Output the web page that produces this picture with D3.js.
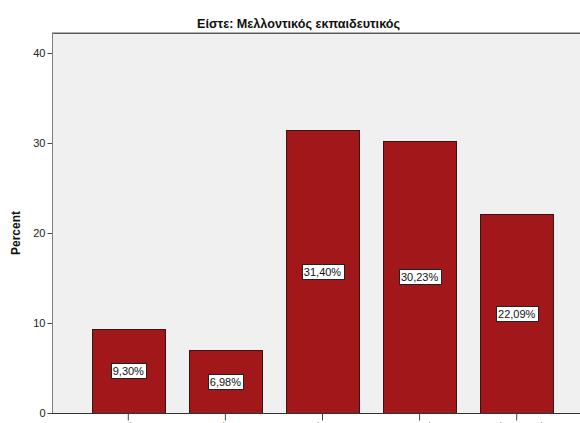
<!DOCTYPE html>
<html><head><meta charset="utf-8">
<script src="https://cdn.jsdelivr.net/npm/d3@7"></script>
<style>html,body{margin:0;padding:0;background:#fff;overflow:hidden}svg{display:block}</style>
</head><body>
<script>
const title = "Είστε: Μελλοντικός εκπαιδευτικός";
const yLabel = "Percent";
const categories = ["Καθόλου", "Λίγο", "Μέτρια", "Πολύ", "Πάρα πολύ"];
const values = [9.30, 6.98, 31.40, 30.23, 22.09];
const valueLabels = ["9,30%", "6,98%", "31,40%", "30,23%", "22,09%"];
const yTicks = [0, 10, 20, 30, 40];

const W = 580, H = 423;
const FONT = "Liberation Sans, Arial, sans-serif";
const svg = d3.select("body").append("svg").attr("width", W).attr("height", H);

const y = d3.scaleLinear().domain([0, 42.2222]).range([413, 33]);
const x = d3.scaleBand().domain(categories).range([80, 565]).paddingInner(0.245).paddingOuter(0.12);

svg.append("rect").attr("x", 52).attr("y", 33).attr("width", W - 52).attr("height", 413 - 33).attr("fill", "#f0f0f0");

svg.append("text").attr("x", 298.5).attr("y", 28).attr("text-anchor", "middle")
  .attr("font-family", FONT).attr("font-weight", "bold").attr("font-size", 12)
  .attr("textLength", 203).attr("lengthAdjust", "spacingAndGlyphs")
  .attr("fill", "#111").text(title);

// top border
svg.append("line").attr("x1", 52).attr("x2", W).attr("y1", 33.5).attr("y2", 33.5).attr("stroke", "#5a5a5a").attr("stroke-width", 1);
svg.append("line").attr("x1", 52).attr("x2", W).attr("y1", 32.5).attr("y2", 32.5).attr("stroke", "#b0b0b0").attr("stroke-width", 1);

// bars
const g = svg.append("g");
g.selectAll("rect.bar").data(values).join("rect").attr("class", "bar")
  .attr("x", (d, i) => Math.round(x(categories[i])) + 0.5)
  .attr("y", d => Math.round(y(d)) + 0.5)
  .attr("width", Math.round(x.bandwidth()))
  .attr("height", d => 413 - Math.round(y(d)))
  .attr("fill", "#a2171a").attr("stroke", "#3a1414").attr("stroke-width", 1);

// value labels
values.forEach((d, i) => {
  const cx = x(categories[i]) + x.bandwidth() / 2;
  const cy = (y(d) + y(0)) / 2;
  const t = g.append("text").attr("x", cx).attr("y", cy + 4).attr("text-anchor", "middle")
    .attr("font-family", FONT).attr("font-size", 11).attr("fill", "#111")
    .text(valueLabels[i]);
  const bb = t.node().getBBox();
  g.insert("rect", "text").attr("x", Math.round(bb.x - 2) + 0.5).attr("y", Math.round(cy - 8) + 0.5)
    .attr("width", Math.round(bb.width + 4)).attr("height", 15)
    .attr("fill", "#fff").attr("stroke", "#222").attr("stroke-width", 1);
  t.raise();
});

// y axis
const ya = svg.append("g").attr("transform", "translate(52.5,0)")
  .call(d3.axisLeft(y).tickValues(yTicks).tickSize(5).tickPadding(2));
ya.select(".domain").remove();
ya.selectAll(".tick line").attr("stroke", "#444");
ya.selectAll("text").attr("font-family", FONT).attr("font-size", 11).attr("fill", "#222");
svg.append("line").attr("x1", 52.5).attr("x2", 52.5).attr("y1", 33).attr("y2", 413).attr("stroke", "#808080");

// x axis
const xa = svg.append("g").attr("transform", "translate(0,413.5)")
  .call(d3.axisBottom(x).tickSize(7).tickPadding(3));
xa.select(".domain").remove();
xa.selectAll(".tick line").attr("stroke", "#444");
xa.selectAll("text").attr("font-family", FONT).attr("font-size", 11).attr("fill", "#222");
svg.append("line").attr("x1", 52).attr("x2", W).attr("y1", 413.5).attr("y2", 413.5).attr("stroke", "#333");

svg.append("text").attr("transform", "translate(20,233) rotate(-90)").attr("text-anchor", "middle")
  .attr("font-family", FONT).attr("font-weight", "bold").attr("font-size", 12)
  .attr("fill", "#111").text(yLabel);
</script>
</body></html>
